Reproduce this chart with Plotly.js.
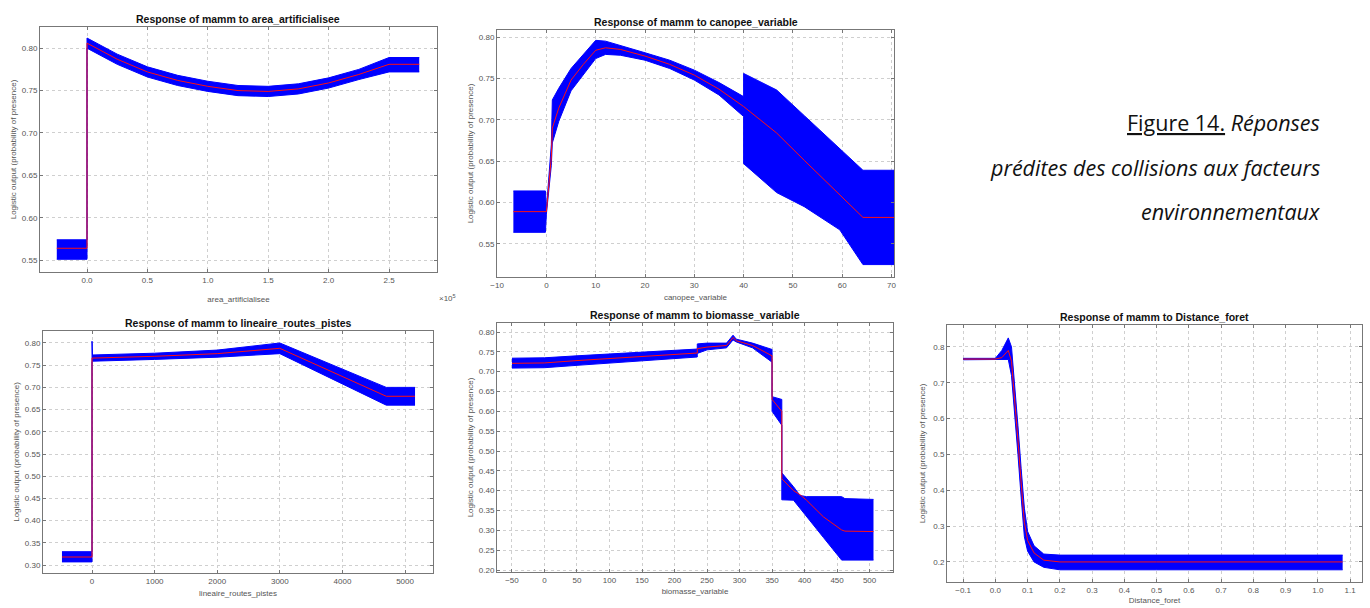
<!DOCTYPE html>
<html>
<head>
<meta charset="utf-8">
<script src="https://cdn.plot.ly/plotly-3.0.1.min.js"></script>
<style>html,body{margin:0;padding:0;background:#fff;}#chart{width:1370px;height:608px;}</style>
</head>
<body>
<div id="chart"></div>
<script>
// ---------- Panel 1 : area_artificialisee ----------
const areaX     = [-25000, 0, 0, 25000, 50000, 75000, 100000, 125000, 150000, 175000, 200000, 225000, 250000, 275000];
const areaMean  = [0.564, 0.564, 0.806, 0.787, 0.772, 0.762, 0.755, 0.750, 0.749, 0.752, 0.759, 0.769, 0.781, 0.781];
const areaUpper = [0.574, 0.574, 0.812, 0.793, 0.778, 0.768, 0.761, 0.756, 0.755, 0.758, 0.765, 0.775, 0.789, 0.789];
const areaLower = [0.551, 0.551, 0.800, 0.781, 0.766, 0.756, 0.749, 0.744, 0.743, 0.746, 0.753, 0.763, 0.772, 0.772];
const areaTickVals = [0, 50000, 100000, 150000, 200000, 250000];
const areaTickText = ['0.0', '0.5', '1.0', '1.5', '2.0', '2.5'];

// ---------- Panel 2 : canopee_variable ----------
const canX     = [-6.7, -0.2, 0, 1.0, 1.2, 2.5, 5, 7.5, 10, 12, 15, 20, 25, 30, 35, 40, 40, 46.7, 52.3, 59.5, 64.2, 70.5];
const canMean  = [0.589, 0.589, 0.589, 0.655, 0.690, 0.714, 0.748, 0.767, 0.784, 0.787, 0.785, 0.777, 0.767, 0.754, 0.737, 0.716, 0.716, 0.684, 0.651, 0.609, 0.582, 0.582];
const canUpper = [0.614, 0.614, 0.592, 0.670, 0.724, 0.738, 0.762, 0.779, 0.796, 0.795, 0.790, 0.781, 0.772, 0.760, 0.745, 0.728, 0.756, 0.736, 0.705, 0.665, 0.639, 0.639];
const canLower = [0.564, 0.564, 0.586, 0.645, 0.672, 0.698, 0.735, 0.755, 0.774, 0.779, 0.778, 0.772, 0.762, 0.748, 0.730, 0.704, 0.647, 0.612, 0.595, 0.567, 0.525, 0.525];

// ---------- Panel 3 : lineaire_routes_pistes ----------
const linX     = [-480, 0, 0, 8, 1000, 2000, 3000, 4700, 5160];
const linMean  = [0.318, 0.318, 0.766, 0.766, 0.770, 0.776, 0.788, 0.680, 0.680];
const linUpper = [0.330, 0.330, 0.804, 0.773, 0.777, 0.784, 0.800, 0.700, 0.700];
const linLower = [0.307, 0.307, 0.758, 0.759, 0.763, 0.768, 0.776, 0.660, 0.660];

// ---------- Panel 4 : biomasse_variable ----------
const bioX     = [-50, 0, 50, 100, 150, 200, 235, 235, 250, 280, 290, 295, 320, 350, 350, 365, 365, 383, 393, 403, 429, 457, 462, 506];
const bioMean  = [0.721, 0.722, 0.728, 0.733, 0.738, 0.743, 0.747, 0.758, 0.762, 0.766, 0.786, 0.778, 0.766, 0.740, 0.630, 0.600, 0.430, 0.400, 0.390, 0.376, 0.334, 0.301, 0.298, 0.297];
const bioUpper = [0.734, 0.735, 0.740, 0.745, 0.750, 0.755, 0.757, 0.770, 0.772, 0.772, 0.792, 0.782, 0.772, 0.756, 0.637, 0.630, 0.445, 0.410, 0.388, 0.385, 0.385, 0.385, 0.380, 0.378];
const bioLower = [0.709, 0.710, 0.716, 0.722, 0.727, 0.733, 0.737, 0.746, 0.755, 0.760, 0.780, 0.775, 0.760, 0.724, 0.600, 0.565, 0.377, 0.376, 0.356, 0.335, 0.282, 0.225, 0.225, 0.225];

// ---------- Panel 5 : Distance_foret ----------
const distX     = [-0.1, 0.0, 0.02, 0.04, 0.05, 0.06, 0.07, 0.08, 0.09, 0.10, 0.12, 0.15, 0.2, 0.5, 1.077];
const distMean  = [0.766, 0.766, 0.770, 0.790, 0.760, 0.660, 0.540, 0.420, 0.310, 0.260, 0.225, 0.205, 0.200, 0.200, 0.200];
const distUpper = [0.768, 0.768, 0.790, 0.825, 0.800, 0.700, 0.580, 0.460, 0.350, 0.285, 0.245, 0.222, 0.219, 0.219, 0.219];
const distLower = [0.764, 0.764, 0.764, 0.765, 0.720, 0.620, 0.500, 0.380, 0.270, 0.230, 0.200, 0.185, 0.178, 0.178, 0.178];

// ---------- Texts ----------
const panelTitles = [
  'Response of mamm to area_artificialisee',
  'Response of mamm to canopee_variable',
  'Response of mamm to lineaire_routes_pistes',
  'Response of mamm to biomasse_variable',
  'Response of mamm to Distance_foret'
];
const xTitles = ['area_artificialisee', 'canopee_variable', 'lineaire_routes_pistes', 'biomasse_variable', 'Distance_foret'];
const yTitle = 'Logistic output (probability of presence)';
const captionLines = [
  '<u>Figure 14.</u> <i>Réponses</i>',
  '<i>prédites des collisions aux facteurs</i>',
  '<i>environnementaux</i>'
];

const BLUE = '#0000ff';
const RED = '#ff1010';

function band(xs, up, lo, mean, n) {
  const xa = n === 1 ? 'x' : 'x' + n;
  const ya = n === 1 ? 'y' : 'y' + n;
  return [
    {x: xs, y: up, xaxis: xa, yaxis: ya, mode: 'lines', line: {color: BLUE, width: 1}, hoverinfo: 'skip'},
    {x: xs, y: lo, xaxis: xa, yaxis: ya, mode: 'lines', line: {color: BLUE, width: 1}, fill: 'tonexty', fillcolor: BLUE, hoverinfo: 'skip'},
    {x: xs, y: mean, xaxis: xa, yaxis: ya, mode: 'lines', line: {color: RED, width: 1}}
  ];
}

const data = [].concat(
  band(areaX, areaUpper, areaLower, areaMean, 1),
  band(canX, canUpper, canLower, canMean, 2),
  band(linX, linUpper, linLower, linMean, 3),
  band(bioX, bioUpper, bioLower, bioMean, 4),
  band(distX, distUpper, distLower, distMean, 5)
);

const W = 1370, H = 608;
function dx(a, b) { return [a / W, b / W]; }
function dy(top, bottom) { return [1 - bottom / H, 1 - top / H]; }

const tickFont = {family: 'Liberation Sans, Arial, sans-serif', size: 8, color: '#555'};
const axTitleFont = {family: 'Liberation Sans, Arial, sans-serif', size: 8, color: '#555'};

function xax(domain, anchor, range, extra, title, standoff) {
  return Object.assign({
    domain: domain, anchor: anchor, range: range,
    showline: true, mirror: 'ticks', linecolor: '#777', linewidth: 1,
    ticks: 'inside', ticklen: 3, tickcolor: '#777',
    showgrid: true, gridcolor: '#cfcfcf', griddash: 'dot', gridwidth: 1,
    zeroline: false, tickfont: tickFont, automargin: false,
    title: {text: title, font: axTitleFont, standoff: standoff}
  }, extra);
}
function yax(domain, anchor, range, extra, standoff) {
  return Object.assign({
    domain: domain, anchor: anchor, range: range,
    showline: true, mirror: 'ticks', linecolor: '#777', linewidth: 1,
    ticks: 'inside', ticklen: 3, tickcolor: '#777',
    showgrid: true, gridcolor: '#cfcfcf', griddash: 'dot', gridwidth: 1,
    zeroline: false, tickfont: tickFont, automargin: false,
    title: {text: yTitle, font: axTitleFont, standoff: standoff}
  }, extra);
}

const layout = {
  width: W, height: H,
  margin: {l: 0, r: 0, t: 0, b: 0},
  paper_bgcolor: '#ffffff', plot_bgcolor: '#ffffff',
  showlegend: false,
  font: {family: 'Liberation Sans, Arial, sans-serif'},
  xaxis:  xax(dx(40, 437), 'y',  [-38900, 289700], {tickvals: areaTickVals, ticktext: areaTickText}, xTitles[0], 12),
  yaxis:  yax(dy(27, 272), 'x',  [0.536, 0.825], {dtick: 0.05, tickformat: '.2f'}, 4),
  xaxis2: xax(dx(497, 894), 'y2', [-10.02, 70.5], {dtick: 10}, xTitles[1], 5),
  yaxis2: yax(dy(30, 277), 'x2', [0.510, 0.8085], {dtick: 0.05, tickformat: '.2f'}, 4),
  xaxis3: xax(dx(43, 433), 'y3', [-783, 5447], {dtick: 1000}, xTitles[2], 5),
  yaxis3: yax(dy(331, 573), 'x3', [0.282, 0.827], {dtick: 0.05, tickformat: '.2f'}, 4),
  xaxis4: xax(dx(497, 893), 'y4', [-73, 536], {dtick: 50}, xTitles[3], 4),
  yaxis4: yax(dy(323, 572), 'x4', [0.195, 0.8227], {dtick: 0.05, tickformat: '.2f'}, 4),
  xaxis5: xax(dx(947, 1362), 'y5', [-0.15, 1.137], {dtick: 0.1, tickformat: '.1f'}, xTitles[4], 3),
  yaxis5: yax(dy(325, 582), 'x5', [0.144, 0.861], {dtick: 0.1, tickformat: '.1f'}, 6),
  annotations: []
};

// panel titles
const axisKeys = ['', '2', '3', '4', '5'];
panelTitles.forEach((t, i) => {
  layout.annotations.push({
    text: '<b>' + t + '</b>', xref: 'x' + axisKeys[i] + ' domain', yref: 'y' + axisKeys[i] + ' domain',
    x: 0.5, y: 1, xanchor: 'center', yanchor: 'bottom', yshift: 0, showarrow: false,
    font: {family: 'Liberation Sans, Arial, sans-serif', size: 10.5, color: '#111'}
  });
});
// x10^5 exponent label
layout.annotations.push({
  text: '×10<sup>5</sup>', xref: 'paper', yref: 'paper', x: 458 / W, y: 1 - 298 / H,
  xanchor: 'right', yanchor: 'middle', showarrow: false,
  font: {family: 'Liberation Sans, Arial, sans-serif', size: 8, color: '#555'}
});
// caption
const capY = [123, 167, 211];
captionLines.forEach((t, i) => {
  layout.annotations.push({
    text: t, xref: 'paper', yref: 'paper', x: 1322 / W, y: 1 - capY[i] / H,
    xanchor: 'right', yanchor: 'middle', showarrow: false,
    font: {family: 'Open Sans, sans-serif', size: 21.5, color: '#111'}
  });
});

Plotly.newPlot('chart', data, layout, {staticPlot: true, displayModeBar: false});
</script>
</body>
</html>
